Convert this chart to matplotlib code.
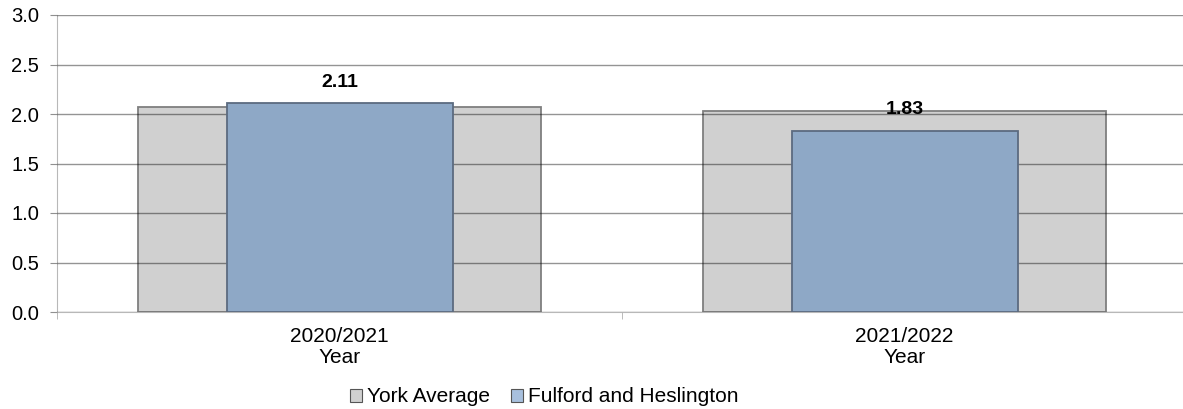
import matplotlib.pyplot as plt
from matplotlib.patches import Patch

plt.rcParams['font.family'] = ['Liberation Sans', 'DejaVu Sans']

categories = ['2020/2021\nYear', '2021/2022\nYear']
york_avg = [2.07, 2.03]
ward = [2.11, 1.83]
series_names = ['York Average', 'Fulford and Heslington']

gray = '#d0d0d0'
blue = '#8ea8c6'

fig = plt.figure(figsize=(11.83, 4.09), dpi=100)
ax = fig.add_axes([57 / 1183, 97 / 409, 1130 / 1183, 297 / 409])

x = list(range(len(categories)))
ax.bar(x, york_avg, width=0.715, color=gray, edgecolor='#7f7f7f', linewidth=1.3, zorder=2)
ax.bar(x, ward, width=0.40, color=blue, edgecolor='#5c6b80', linewidth=1.3, zorder=3)

for xi, v in zip(x, ward):
    ax.annotate(f'{v:.2f}', (xi, v), xytext=(0, 15), textcoords='offset points',
                ha='center', va='center', fontsize=14, fontweight='bold', zorder=5)

ax.set_ylim(0, 3.0)
ax.set_xlim(-0.5, 1.5)
ax.set_yticks([0, 0.5, 1.0, 1.5, 2.0, 2.5, 3.0])
ax.set_yticklabels([f'{t:.1f}' for t in ax.get_yticks()])
ax.yaxis.grid(True, color='black', alpha=0.42, linewidth=1.0, zorder=4)
ax.set_axisbelow(False)

ax.set_xticks(x)
ax.set_xticklabels(categories, fontsize=15, linespacing=1.12)
ax.set_xticks([-0.5, 0.5, 1.5], minor=True)
ax.tick_params(axis='x', which='major', length=0, pad=11)
ax.tick_params(axis='x', which='minor', length=5, color='#b0b0b0')
ax.tick_params(axis='y', length=5, color='#909090', labelsize=14.5, pad=8)

for s in ['top', 'right']:
    ax.spines[s].set_visible(False)
ax.spines['left'].set_color('#b8b8b8')
ax.spines['bottom'].set_color('#b8b8b8')
ax.spines['left'].set_zorder(1)

handles = [Patch(facecolor=gray, edgecolor='#555555', linewidth=0.8),
           Patch(facecolor='#a8c0de', edgecolor='#555555', linewidth=0.8)]
fig.legend(handles, series_names, loc='center', bbox_to_anchor=(544 / 1183, 1 - 397 / 409),
           ncol=2, frameon=False, fontsize=15, handlelength=0.58, handleheight=0.58,
           handletextpad=0.25, columnspacing=1.0, borderpad=0)

fig.savefig('out.png', dpi=100)
